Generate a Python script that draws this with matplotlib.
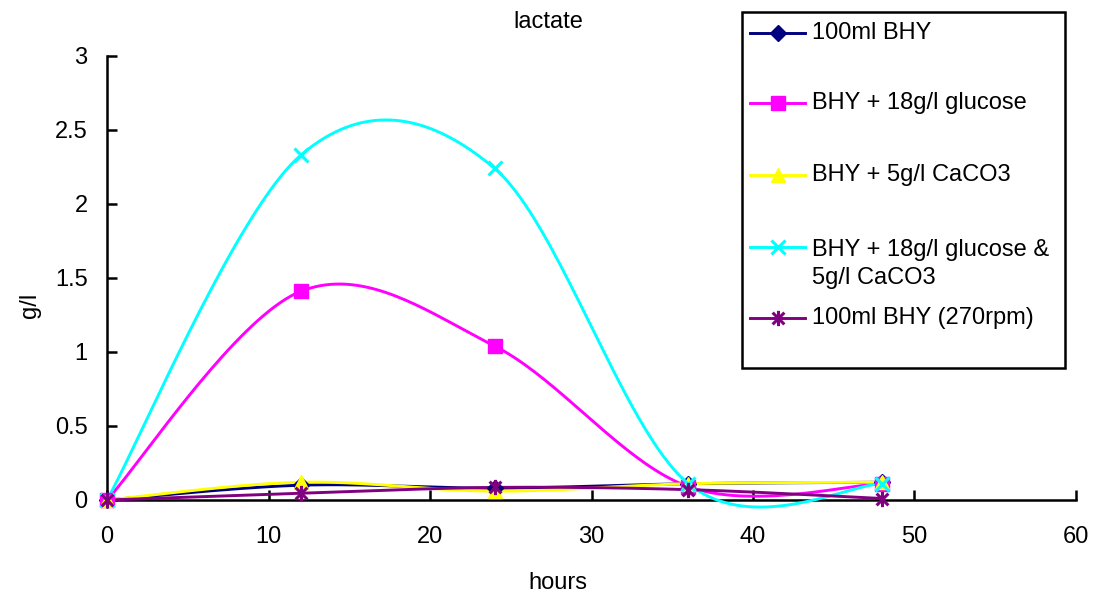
import numpy as np
import matplotlib
matplotlib.use("Agg")
import matplotlib.pyplot as plt
from matplotlib.path import Path
from matplotlib.lines import Line2D
from matplotlib.patches import Rectangle

plt.rcParams['font.family'] = ['Liberation Sans', 'DejaVu Sans']

# sampling times (hours) and lactate (g/l) for each culture
hours = [0, 12, 24, 36, 48]
bhy_100ml = [0.0, 0.10, 0.08, 0.11, 0.12]
bhy_glucose = [0.0, 1.41, 1.04, 0.09, 0.11]
bhy_caco3 = [0.0, 0.12, 0.06, 0.11, 0.12]
bhy_glucose_caco3 = [0.0, 2.33, 2.24, 0.11, 0.11]
bhy_270rpm = [0.0, 0.045, 0.085, 0.07, 0.01]

labels = ['100ml BHY', 'BHY + 18g/l glucose', 'BHY + 5g/l CaCO3',
          'BHY + 18g/l glucose &\n5g/l CaCO3', '100ml BHY (270rpm)']

# star marker: an X crossed by a vertical bar
star = Path([(-1, -1), (1, 1), (-1, 1), (1, -1), (0, -1.3), (0, 1.3)],
            [Path.MOVETO, Path.LINETO, Path.MOVETO, Path.LINETO, Path.MOVETO, Path.LINETO])

styles = [
    dict(color='#000080', marker='D', ms=8),
    dict(color='#FF00FF', marker='s', ms=10.5),
    dict(color='#FFFF00', marker='^', ms=10.5),
    dict(color='#00FFFF', marker='x', ms=10.5, mew=2.2),
    dict(color='#800080', marker=star, ms=11, mew=2.2, mfc='none'),
]


def smooth(x, y, n=40):
    # bezier smoothing through the points (control points from neighbours)
    x = np.asarray(x, float)
    y = np.asarray(y, float)
    px = np.concatenate([[x[0]], x, [x[-1]]])
    py = np.concatenate([[y[0]], y, [y[-1]]])
    xs, ys = [], []
    t = np.linspace(0, 1, n)
    for i in range(1, len(px) - 2):
        p0 = np.array([px[i], py[i]])
        p3 = np.array([px[i + 1], py[i + 1]])
        p1 = p0 + (np.array([px[i + 1], py[i + 1]]) - np.array([px[i - 1], py[i - 1]])) / 6
        p2 = p3 - (np.array([px[i + 2], py[i + 2]]) - np.array([px[i], py[i]])) / 6
        b = ((1 - t) ** 3)[:, None] * p0 + (3 * (1 - t) ** 2 * t)[:, None] * p1 \
            + (3 * (1 - t) * t ** 2)[:, None] * p2 + (t ** 3)[:, None] * p3
        xs.extend(b[:, 0])
        ys.extend(b[:, 1])
    return xs, ys


fig = plt.figure(figsize=(11.01, 6.02), dpi=100)
ax = fig.add_axes([107 / 1101, 1 - 500 / 602, (1076 - 107) / 1101, (500 - 56) / 602])

series = [bhy_100ml, bhy_glucose, bhy_caco3, bhy_glucose_caco3, bhy_270rpm]
for vals, st in zip(series, styles):
    sx, sy = smooth(hours, vals)
    ax.plot(sx, sy, color=st['color'], lw=2.1, clip_on=False, zorder=3)
    ax.plot(hours, vals, ls='none', clip_on=False, zorder=4,
            markeredgecolor=st['color'], markerfacecolor=st.get('mfc', st['color']),
            marker=st['marker'], ms=st['ms'], mew=st.get('mew', 1))

ax.set_xlim(0, 60)
ax.set_ylim(0, 3)
ax.set_xticks(range(0, 61, 10))
ax.set_yticks([0, 0.5, 1, 1.5, 2, 2.5, 3])
ax.set_yticklabels(['0', '0.5', '1', '1.5', '2', '2.5', '3'])
for s in ['top', 'right']:
    ax.spines[s].set_visible(False)
for s in ['left', 'bottom']:
    ax.spines[s].set_linewidth(1.8)
ax.tick_params(direction='in', length=7.5, width=1.8, labelsize=17)
ax.tick_params(axis='x', pad=19)
ax.tick_params(axis='y', pad=14)

fig.text(548 / 1101, 1 - 22 / 602, 'lactate', ha='center', va='center', fontsize=17)
fig.text(558 / 1101, 1 - 583 / 602, 'hours', ha='center', va='center', fontsize=17)
fig.text(30 / 1101, 1 - 305 / 602, 'g/l', ha='center', va='center', fontsize=17, rotation=90)

# legend box drawn in figure pixels
W, H = 1101, 602
fig.add_artist(Rectangle((742 / W, 1 - 368 / H), (1065 - 742) / W, (368 - 12) / H,
                         transform=fig.transFigure, facecolor='white',
                         edgecolor='black', lw=1.8, zorder=10))
rows = [33, 103, 175, 264, 318]
for lab, st, yr in zip(labels, styles, rows):
    yy = 1 - yr / H
    if '\n' in lab:
        yy_line = 1 - 247 / H
    else:
        yy_line = yy
    fig.add_artist(Line2D([750 / W, 805 / W], [yy_line, yy_line], transform=fig.transFigure,
                          color=st['color'], lw=2.1, zorder=11))
    fig.add_artist(Line2D([777.5 / W], [yy_line], transform=fig.transFigure, ls='none',
                          marker=st['marker'], ms=st['ms'], mew=st.get('mew', 1),
                          markeredgecolor=st['color'],
                          markerfacecolor=st.get('mfc', st['color']), zorder=12))
    t = fig.text(812 / W, yy, lab, ha='left', va='center', fontsize=17, zorder=13)
    t.set_linespacing(1.4)

fig.savefig('out.png', dpi=100)
